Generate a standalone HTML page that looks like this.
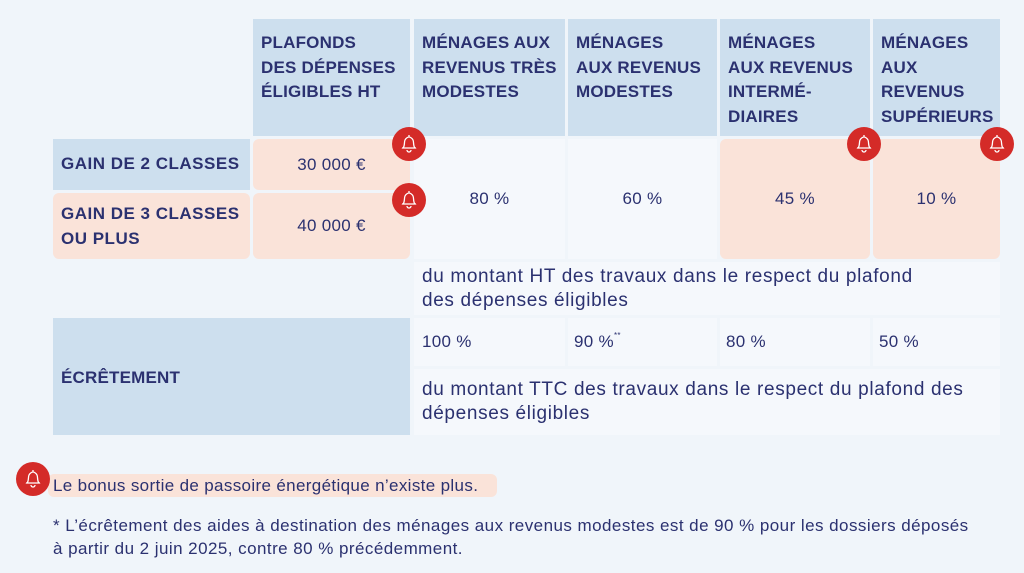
<!DOCTYPE html>
<html><head><meta charset="utf-8"><style>
body{margin:0;width:1024px;height:573px;background:#f0f5fa;font-family:"Liberation Sans",sans-serif;color:#2b3170;position:relative;overflow:hidden}
.c{position:absolute;box-sizing:border-box}
.h{background:#cddfee;font-weight:bold;font-size:17px;line-height:24.5px;padding:12px 8px;letter-spacing:0.2px}
.w{background:#f5f8fc}
.p{background:#fae3d9;border-radius:6px}
.t{font-size:17px;display:flex;align-items:center;justify-content:center;letter-spacing:0.3px}
.bell{position:absolute;width:34px;height:34px;border-radius:50%;background:#d42b28}
.bell svg{position:absolute;left:7px;top:6px}
.txt{font-size:19px;line-height:24px;letter-spacing:0.65px}
</style></head><body>
<div class="c h" style="left:253px;top:19px;width:157px;height:117px">PLAFONDS<br>DES DÉPENSES<br>ÉLIGIBLES HT</div>
<div class="c h" style="left:414px;top:19px;width:151px;height:117px">MÉNAGES AUX<br>REVENUS TRÈS<br>MODESTES</div>
<div class="c h" style="left:568px;top:19px;width:149px;height:117px">MÉNAGES<br>AUX REVENUS<br>MODESTES</div>
<div class="c h" style="left:720px;top:19px;width:150px;height:117px">MÉNAGES<br>AUX REVENUS<br>INTERMÉ-<br>DIAIRES</div>
<div class="c h" style="left:873px;top:19px;width:127px;height:117px">MÉNAGES<br>AUX<br>REVENUS<br>SUPÉRIEURS</div>

<div class="c h" style="left:53px;top:139px;width:197px;height:51px;padding:13px 8px;letter-spacing:0.5px">GAIN DE 2 CLASSES</div>
<div class="c h p" style="left:53px;top:193px;width:197px;height:66px;padding:9px 8px;background:#fae3d9;letter-spacing:0.5px">GAIN DE 3 CLASSES<br>OU PLUS</div>
<div class="c p t" style="left:253px;top:139px;width:157px;height:51px">30 000 €</div>
<div class="c p t" style="left:253px;top:193px;width:157px;height:66px">40 000 €</div>
<div class="c w t" style="left:414px;top:139px;width:151px;height:120px">80 %</div>
<div class="c w t" style="left:568px;top:139px;width:149px;height:120px">60 %</div>
<div class="c p t" style="left:720px;top:139px;width:150px;height:120px">45 %</div>
<div class="c p t" style="left:873px;top:139px;width:127px;height:120px">10 %</div>

<div class="c w txt" style="left:414px;top:262px;width:586px;height:53px;padding:3px 8px">du montant HT des travaux dans le respect du plafond<br>des dépenses éligibles</div>

<div class="c h" style="left:53px;top:318px;width:357px;height:117px;padding:48px 8px">ÉCRÊTEMENT</div>
<div class="c w txt" style="left:414px;top:318px;width:151px;height:48px;padding:12px 8px;font-size:17px;letter-spacing:0.3px">100 %</div>
<div class="c w txt" style="left:568px;top:318px;width:149px;height:48px;padding:12px 6px;font-size:17px;letter-spacing:0.3px">90 %<span style="font-size:8px;vertical-align:top;line-height:12px">**</span></div>
<div class="c w txt" style="left:720px;top:318px;width:150px;height:48px;padding:12px 6px;font-size:17px;letter-spacing:0.3px">80 %</div>
<div class="c w txt" style="left:873px;top:318px;width:127px;height:48px;padding:12px 6px;font-size:17px;letter-spacing:0.3px">50 %</div>
<div class="c w txt" style="left:414px;top:369px;width:586px;height:66px;padding:9px 8px">du montant TTC des travaux dans le respect du plafond des<br>dépenses éligibles</div>

<div class="c" style="left:48px;top:474px;width:449px;height:23px;background:#fae3d9;border-radius:6px"></div>
<div class="c txt" style="left:53px;top:474px;font-size:17px;letter-spacing:0.35px">Le bonus sortie de passoire énergétique n’existe plus.</div>
<div class="c txt" style="left:53px;top:514px;font-size:17px;line-height:23px;letter-spacing:0.45px;white-space:nowrap">* L’écrêtement des aides à destination des ménages aux revenus modestes est de 90 % pour les dossiers déposés<br>à partir du 2 juin 2025, contre 80 % précédemment.</div>

<div class="bell" style="left:392px;top:127px"><svg width="20" height="22" viewBox="0 0 20 22" fill="none" stroke="#fff" stroke-width="1.3"><path d="M10 2v2M4 15c2-2 1-6 2-8s3-3 4-3 3 1 4 3 0 6 2 8zM3 15h14M8 17a2 2 0 0 0 4 0"/></svg></div>
<div class="bell" style="left:392px;top:183px"><svg width="20" height="22" viewBox="0 0 20 22" fill="none" stroke="#fff" stroke-width="1.3"><path d="M10 2v2M4 15c2-2 1-6 2-8s3-3 4-3 3 1 4 3 0 6 2 8zM3 15h14M8 17a2 2 0 0 0 4 0"/></svg></div>
<div class="bell" style="left:847px;top:127px"><svg width="20" height="22" viewBox="0 0 20 22" fill="none" stroke="#fff" stroke-width="1.3"><path d="M10 2v2M4 15c2-2 1-6 2-8s3-3 4-3 3 1 4 3 0 6 2 8zM3 15h14M8 17a2 2 0 0 0 4 0"/></svg></div>
<div class="bell" style="left:980px;top:127px"><svg width="20" height="22" viewBox="0 0 20 22" fill="none" stroke="#fff" stroke-width="1.3"><path d="M10 2v2M4 15c2-2 1-6 2-8s3-3 4-3 3 1 4 3 0 6 2 8zM3 15h14M8 17a2 2 0 0 0 4 0"/></svg></div>
<div class="bell" style="left:16px;top:462px;width:34px;height:34px;border-radius:50%"><svg width="20" height="22" viewBox="0 0 20 22" fill="none" stroke="#fff" stroke-width="1.3"><path d="M10 2v2M4 15c2-2 1-6 2-8s3-3 4-3 3 1 4 3 0 6 2 8zM3 15h14M8 17a2 2 0 0 0 4 0"/></svg></div>
</body></html>
